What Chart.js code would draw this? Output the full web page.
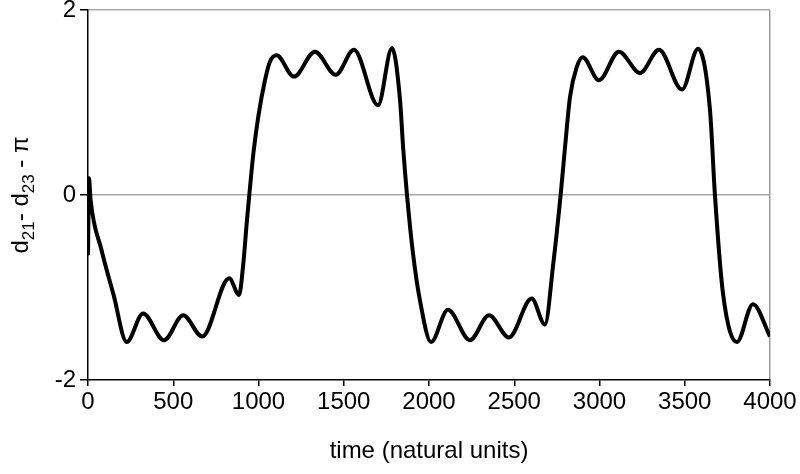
<!DOCTYPE html>
<html>
<head>
<meta charset="utf-8">
<script src="https://cdn.jsdelivr.net/npm/chart.js@4"></script>
<style>
  html, body { margin: 0; padding: 0; background: #fff; }
</style>
</head>
<body>
<canvas id="chart" width="800" height="474"></canvas>
<script>
// time axis (natural units) and phase difference
const times = [0, 6, 15, 80, 150, 227, 323, 446, 558, 670,
  828, 886, 911, 931, 946, 970, 999, 1038, 1067, 1106,
  1208, 1331, 1453, 1560, 1701, 1783, 1830, 1848, 1871, 1906,
  1947, 2012, 2111, 2240, 2352, 2469, 2602, 2680, 2729, 2772,
  2798, 2827, 2866, 2901, 2997, 3114, 3238, 3349, 3484, 3578,
  3648, 3677, 3724, 3806, 3900, 4000]
const phaseDiff = [-0.65, 0.18, -0.05, -0.60, -1.08, -1.59, -1.28, -1.57, -1.30, -1.53,
  -0.90, -1.08, -0.74, -0.30, 0, 0.45, 0.85, 1.24, 1.44, 1.51,
  1.28, 1.55, 1.30, 1.57, 0.97, 1.59, 1.03, 0.52, 0, -0.63,
  -1.14, -1.59, -1.24, -1.57, -1.30, -1.54, -1.12, -1.40, -0.74, 0,
  0.52, 1.06, 1.38, 1.49, 1.24, 1.55, 1.32, 1.57, 1.14, 1.58,
  0.92, 0, -1.06, -1.59, -1.18, -1.53]

const xTicks = [0, 500, 1000, 1500, 2000, 2500, 3000, 3500, 4000]
const yTicks = [-2, 0, 2]
const xTitle = 'time (natural units)'
// pieces of the y title: [text, isSubscript]
const yTitleParts = [['d', false], ['21', true], ['- d', false], ['23', true], [' - π', false]]

const FONT = "'Liberation Sans', Arial, sans-serif"

// y title has subscripts, so it is drawn by hand
const yTitlePlugin = {
  id: 'yTitle',
  afterDraw(chart) {
    const { ctx, chartArea } = chart
    const big = 24, small = 17
    ctx.save()
    let total = 0
    yTitleParts.forEach(([t, sub]) => {
      ctx.font = `${sub ? small : big}px ${FONT}`
      total += ctx.measureText(t).width
    })
    ctx.translate(28, (chartArea.top + chartArea.bottom) / 2)
    ctx.rotate(-Math.PI / 2)
    ctx.fillStyle = '#000'
    ctx.textBaseline = 'alphabetic'
    let x = -total / 2
    yTitleParts.forEach(([t, sub]) => {
      ctx.font = `${sub ? small : big}px ${FONT}`
      ctx.fillText(t, x, sub ? 6 : 0)
      x += ctx.measureText(t).width
    })
    ctx.restore()
  }
}

new Chart(document.getElementById('chart'), {
  type: 'line',
  data: {
    datasets: [{
      data: times.map((t, i) => ({ x: t, y: phaseDiff[i] })),
      borderColor: '#000',
      borderWidth: 4,
      pointRadius: 0,
      cubicInterpolationMode: 'monotone',
      fill: false
    }]
  },
  options: {
    responsive: false,
    animation: false,
    devicePixelRatio: 1,
    layout: { padding: { top: 10, right: 30, bottom: 0, left: 0 } },
    plugins: { legend: { display: false }, tooltip: { enabled: false } },
    scales: {
      x: {
        type: 'linear',
        min: 0,
        max: 4000,
        afterBuildTicks: s => { s.ticks = xTicks.map(v => ({ value: v })) },
        afterFit: s => { s.height = 94 },
        ticks: {
          color: '#000', font: { family: FONT, size: 24 }, padding: 2,
          maxRotation: 0, autoSkip: false, callback: v => String(v)
        },
        grid: {
          color: c => c.tick && c.tick.value === 4000 ? '#9a9a9a' : 'rgba(0,0,0,0)',
          tickColor: '#000',
          tickLength: 6,
          lineWidth: 1.5
        },
        border: { color: '#000', width: 1.5 },
        title: { display: true, text: xTitle, color: '#000', font: { family: FONT, size: 24 }, padding: { top: 4, bottom: 8 } }
      },
      y: {
        min: -2,
        max: 2,
        afterBuildTicks: s => { s.ticks = yTicks.map(v => ({ value: v })) },
        afterFit: s => { s.width = 88; s.paddingTop = 0; s.paddingBottom = 0 },
        ticks: { color: '#000', font: { family: FONT, size: 24 }, padding: 4, autoSkip: false, callback: v => String(v) },
        grid: {
          color: c => c.tick && c.tick.value === -2 ? 'rgba(0,0,0,0)' : '#a8a8a8',
          tickColor: '#000',
          tickLength: 8,
          lineWidth: 1.5
        },
        border: { color: '#000', width: 1.5 }
      }
    }
  },
  plugins: [yTitlePlugin]
})
</script>
</body>
</html>
